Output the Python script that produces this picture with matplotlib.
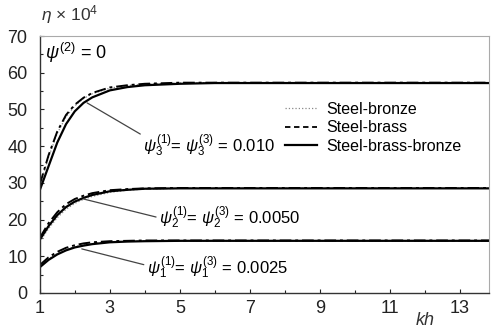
import numpy as np
import matplotlib
matplotlib.use("Agg")
import matplotlib.pyplot as plt
from matplotlib.ticker import MultipleLocator, FixedLocator

plt.rcParams['font.family'] = ['Liberation Sans', 'DejaVu Sans']
plt.rcParams['mathtext.fontset'] = 'custom'
plt.rcParams['mathtext.rm'] = 'Liberation Sans'
plt.rcParams['mathtext.it'] = 'Liberation Sans:italic'

# kh grid
kh = [1.0, 1.25, 1.5, 1.75, 2.0, 2.25, 2.5, 3.0, 3.5, 4.0, 5.0, 6.0, 8.0, 10.0, 12.0, 14.0]

# psi = 0.010
g3_bronze = [29.0, 37.0, 43.5, 48.0, 51.0, 53.0, 54.3, 55.8, 56.5, 56.9, 57.2, 57.3, 57.3, 57.3, 57.3, 57.3]
g3_brass = [29.5, 37.5, 44.0, 48.5, 51.3, 53.2, 54.5, 56.0, 56.6, 57.0, 57.3, 57.3, 57.3, 57.3, 57.3, 57.3]
g3_bb = [28.0, 34.5, 41.0, 46.0, 49.5, 51.8, 53.3, 55.2, 56.1, 56.6, 57.0, 57.2, 57.2, 57.2, 57.2, 57.2]

# psi = 0.0050
g2_bronze = [14.0, 17.5, 20.5, 22.8, 24.4, 25.5, 26.3, 27.4, 28.0, 28.3, 28.5, 28.5, 28.5, 28.5, 28.5, 28.5]
g2_brass = [15.0, 19.0, 22.0, 24.2, 25.6, 26.5, 27.2, 28.0, 28.3, 28.5, 28.6, 28.6, 28.6, 28.6, 28.6, 28.6]
g2_bb = [14.5, 18.2, 21.2, 23.4, 24.9, 25.9, 26.7, 27.7, 28.1, 28.4, 28.5, 28.5, 28.5, 28.5, 28.5, 28.5]

# psi = 0.0025
g1_bronze = [7.3, 9.3, 10.8, 11.9, 12.6, 13.1, 13.5, 13.9, 14.1, 14.2, 14.2, 14.2, 14.2, 14.2, 14.2, 14.2]
g1_brass = [7.6, 9.7, 11.2, 12.3, 13.0, 13.5, 13.8, 14.1, 14.2, 14.3, 14.3, 14.3, 14.3, 14.3, 14.3, 14.3]
g1_bb = [7.0, 9.0, 10.5, 11.6, 12.4, 12.9, 13.3, 13.8, 14.0, 14.1, 14.2, 14.2, 14.2, 14.2, 14.2, 14.2]

labels = ["Steel-bronze", "Steel-brass", "Steel-brass-bronze"]
xticks = [1, 3, 5, 7, 9, 11, 13]

fig = plt.figure(figsize=(4.91, 3.31), dpi=100)
ax = fig.add_axes([0.081, 0.115, 0.915, 0.776])

for grp in [(g3_bronze, g3_brass, g3_bb), (g2_bronze, g2_brass, g2_bb), (g1_bronze, g1_brass, g1_bb)]:
    ax.plot(kh, grp[0], color="#888888", lw=0.9, ls=":")
    ax.plot(kh, grp[1], color="black", lw=1.4, ls=(0, (6, 2, 1.5, 2)))
    ax.plot(kh, grp[2], color="black", lw=1.6, ls="-")

# legend entries (short handles)
lh = [plt.Line2D([], [], color="#888888", lw=0.9, ls=":"),
      plt.Line2D([], [], color="black", lw=1.3, ls=(0, (3, 2))),
      plt.Line2D([], [], color="black", lw=1.6, ls="-")]
ax.legend(lh, labels, loc="upper left", bbox_to_anchor=(0.545, 0.745),
          frameon=False, fontsize=11.5, handlelength=2.0, handletextpad=0.6,
          labelspacing=0.22, borderpad=0, borderaxespad=0)

# annotations
ax.annotate(r"$\psi_3^{(1)}$= $\psi_3^{(3)}$ = 0.010", xy=(2.35, 51.8), xytext=(3.95, 40.0),
            fontsize=12, va="center", ha="left",
            arrowprops=dict(arrowstyle="-", color="#444444", lw=0.9, shrinkA=0, shrinkB=0,
                            relpos=(0, 0.9)))
ax.annotate(r"$\psi_2^{(1)}$= $\psi_2^{(3)}$ = 0.0050", xy=(2.25, 25.6), xytext=(4.4, 20.5),
            fontsize=12, va="center", ha="left",
            arrowprops=dict(arrowstyle="-", color="#444444", lw=0.9, shrinkA=0, shrinkB=0,
                            relpos=(0, 0.5)))
ax.annotate(r"$\psi_1^{(1)}$= $\psi_1^{(3)}$ = 0.0025", xy=(2.2, 12.0), xytext=(4.05, 6.8),
            fontsize=12, va="center", ha="left",
            arrowprops=dict(arrowstyle="-", color="#444444", lw=0.9, shrinkA=0, shrinkB=0,
                            relpos=(0, 0.6)))

ax.text(1.15, 65.5, r"$\psi^{(2)}$ = 0", fontsize=13, va="center", ha="left")

ax.set_xlim(1, 13.83)
ax.set_ylim(0, 70)
ax.xaxis.set_major_locator(FixedLocator(xticks))
ax.xaxis.set_minor_locator(MultipleLocator(1))
ax.yaxis.set_major_locator(MultipleLocator(10))
ax.yaxis.set_minor_locator(MultipleLocator(5))
ax.tick_params(which="both", direction="in", labelsize=13, length=3, width=0.8,
               colors="#222222")
ax.tick_params(axis="y", which="major", pad=9)
ax.tick_params(axis="x", which="major", pad=5)
ax.tick_params(which="minor", length=2)
for s in ["top", "right"]:
    ax.spines[s].set_color("#aaaaaa")
    ax.spines[s].set_linewidth(0.8)
for s in ["left", "bottom"]:
    ax.spines[s].set_color("#333333")
    ax.spines[s].set_linewidth(1.0)

fig.text(0.083, 0.955, r"$\eta$ × 10$^4$", fontsize=12.5, va="center", ha="left", color="#333333")
fig.text(0.866, 0.033, "kh", fontsize=13, style="italic", va="center", ha="center", color="#333333")

fig.savefig("out.png", dpi=100)
